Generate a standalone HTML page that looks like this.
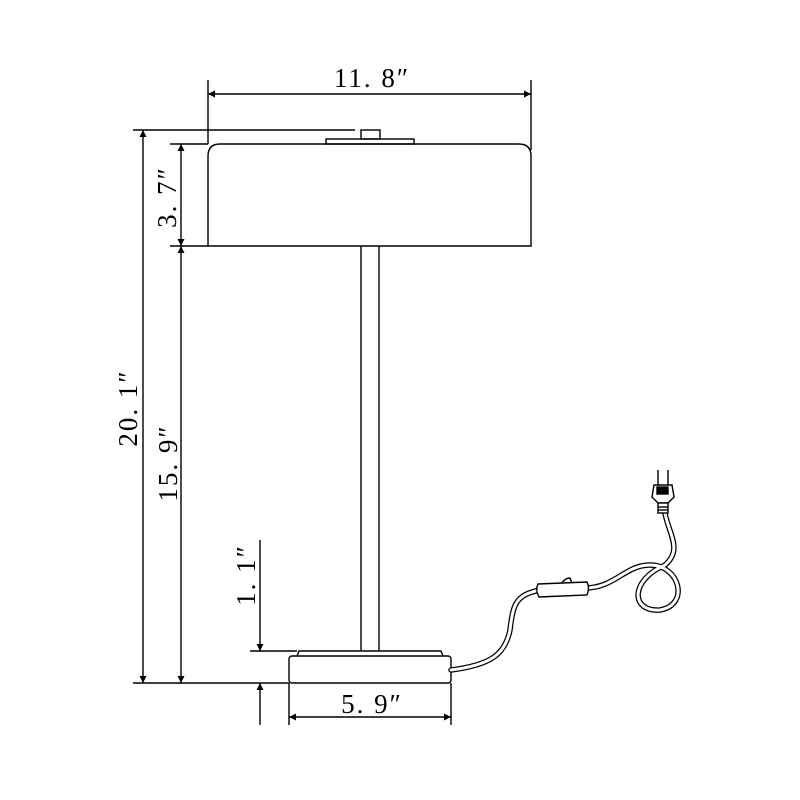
<!DOCTYPE html>
<html><head><style>body{margin:0;background:#fff}svg{display:block}text{font-family:"Liberation Serif",serif;font-size:27px;fill:#000;letter-spacing:2px}</style></head><body>
<svg width="800" height="800" viewBox="0 0 800 800" xmlns="http://www.w3.org/2000/svg">
<defs>
<marker id="a" viewBox="0 0 10 10" refX="10" refY="5" markerWidth="16" markerHeight="7" markerUnits="userSpaceOnUse" orient="auto-start-reverse"><path d="M0,0L10,5L0,10z" fill="#000"/></marker>
</defs>
<g stroke="#000" stroke-width="1.4" fill="none">
<path d="M208,246 L208,156 Q208,144 220,144 L519,144 Q531,144 531,156 L531,246 Z" fill="#fff"/>
<rect x="326" y="139" width="88" height="5"/>
<rect x="361" y="130" width="19" height="9"/>
<line x1="361" y1="246" x2="361" y2="651"/><line x1="379" y1="246" x2="379" y2="651"/>
<path d="M297,656 L299,651 L441,651 L443,656"/>
<rect x="289" y="656" width="162" height="27" rx="3"/>
<line x1="133" y1="130" x2="355" y2="130"/>
<line x1="170" y1="144" x2="208" y2="144"/>
<line x1="170" y1="246" x2="208" y2="246"/>
<line x1="208" y1="80" x2="208" y2="144"/>
<line x1="531" y1="80" x2="531" y2="150"/>
<line x1="133" y1="683" x2="289" y2="683"/>
<line x1="250" y1="651" x2="297" y2="651"/>
<line x1="289" y1="683" x2="289" y2="725"/>
<line x1="451" y1="683" x2="451" y2="725"/>
<line x1="208" y1="94" x2="531" y2="94" marker-start="url(#a)" marker-end="url(#a)"/>
<line x1="143" y1="130" x2="143" y2="683" marker-start="url(#a)" marker-end="url(#a)"/>
<line x1="181" y1="144" x2="181" y2="246" marker-start="url(#a)" marker-end="url(#a)"/>
<line x1="181" y1="246" x2="181" y2="683" marker-start="url(#a)" marker-end="url(#a)"/>
<line x1="260" y1="540" x2="260" y2="651" marker-end="url(#a)"/>
<line x1="260" y1="725" x2="260" y2="683" marker-end="url(#a)"/>
<line x1="289" y1="717" x2="451" y2="717" marker-start="url(#a)" marker-end="url(#a)"/>
<g stroke-width="5.5" stroke-linecap="round"><path d="M451,670 C490,665 505,655 510,630 C513,605 515,595 540,590 L585,588 C615,588 625,565 650,565 C680,565 690,605 660,610 C630,612 630,580 665,565 C685,548 665,530 664,505"/></g>
<g stroke="#fff" stroke-width="3" stroke-linecap="round"><path d="M451,670 C490,665 505,655 510,630 C513,605 515,595 540,590 L585,588 C615,588 625,565 650,565 C680,565 690,605 660,610 C630,612 630,580 665,565 C685,548 665,530 664,505"/></g>
<path d="M538,584 L587,582 Q590,588 587,595 L539,597 Q535,590 538,584Z" fill="#fff"/>
<path d="M562,583 Q565,578 570,578 L572,583"/>
<path d="M654,485 L672,485 L674,497 L668,503 L658,503 L652,497Z" fill="#fff"/>
<rect x="657" y="487" width="11" height="7" fill="#000"/>
<rect x="658" y="503" width="10" height="10" fill="#fff"/>
<line x1="658" y1="507" x2="668" y2="507"/><line x1="658" y1="510" x2="668" y2="510"/>
<line x1="658" y1="485" x2="658" y2="470"/><line x1="668" y1="485" x2="668" y2="470"/>
</g>
<text x="372" y="87" text-anchor="middle">11. 8″</text>
<text x="372" y="713" text-anchor="middle">5. 9″</text>
<text transform="translate(137,408) rotate(-90)" text-anchor="middle">20. 1″</text>
<text transform="translate(177,463) rotate(-90)" text-anchor="middle">15. 9″</text>
<text transform="translate(176,197) rotate(-90)" text-anchor="middle">3. 7″</text>
<text transform="translate(255,575) rotate(-90)" text-anchor="middle">1. 1″</text>
</svg>
</body></html>
